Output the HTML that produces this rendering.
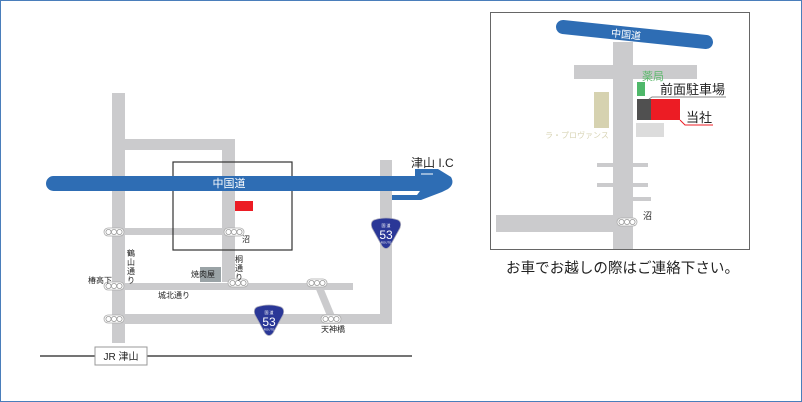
<!DOCTYPE html>
<html><head><meta charset="utf-8"><style>
html,body{margin:0;padding:0;background:#fff}
svg{display:block;font-family:"Liberation Sans","Noto Sans CJK JP",sans-serif}
</style></head><body>
<svg width="802" height="402" viewBox="0 0 802 402" xmlns="http://www.w3.org/2000/svg">
<defs>
<g id="sig"><rect x="-10" y="-4" width="20" height="8" rx="4" fill="#fff" stroke="#aaa" stroke-width="0.8"/><circle cx="-5.5" cy="0" r="2.6" fill="#fff" stroke="#999" stroke-width="0.8"/><circle cx="0" cy="0" r="2.6" fill="#fff" stroke="#999" stroke-width="0.8"/><circle cx="5.5" cy="0" r="2.6" fill="#fff" stroke="#999" stroke-width="0.8"/></g>
<g id="r53"><path d="M-12,-14 Q0,-18 12,-14 Q16,-12 14,-6 L4,12 Q0,17 -4,12 L-14,-6 Q-16,-12 -12,-14Z" fill="#2a3797" stroke="#aab" stroke-width="0.8"/><text x="0" y="-7" font-size="4" fill="#fff" text-anchor="middle">国 道</text><text x="0" y="5" font-size="12" fill="#fff" text-anchor="middle">53</text><text x="0" y="9.5" font-size="3" fill="#fff" text-anchor="middle">ROUTE</text></g>
</defs>
<rect x="0.5" y="0.5" width="801" height="401" fill="#fff" stroke="#4a7ebb"/>
<g fill="#cbcbcd">
<rect x="112" y="93" width="13" height="250"/>
<rect x="112" y="139" width="123" height="11"/>
<rect x="222" y="139" width="13" height="143"/>
<rect x="112" y="228" width="123" height="7"/>
<rect x="112" y="283" width="241" height="7"/>
<rect x="112" y="314" width="280" height="10"/>
<rect x="380" y="160" width="12" height="164"/>
<polygon points="315,287 323,287 335,316 327,316"/>
<rect x="200" y="267" width="21" height="15" fill="#9aa3a6"/>
</g>
<rect x="173" y="162" width="119" height="88" fill="none" stroke="#333" stroke-width="1.2"/>
<rect x="235" y="201" width="18" height="10" fill="#ec1c24"/>
<rect x="46" y="176" width="380" height="15" rx="7.5" fill="#2e6db4"/>
<path d="M392,195 L417,195 L420,191 L415,191 L415,169 L438,169 L451,177 Q455,184 448,189 L442,192 L421,200 L392,200Z" fill="#2e6db4"/>
<line x1="421" y1="174" x2="433" y2="174" stroke="#fff" stroke-width="1"/>
<text x="229" y="187" font-size="11" fill="#fff" text-anchor="middle">中国道</text>
<text x="411" y="167" font-size="12" fill="#222">津山 I.C</text>
<use href="#sig" x="114" y="232"/><use href="#sig" x="234" y="232"/>
<use href="#sig" x="114" y="286"/><use href="#sig" x="238" y="283"/><use href="#sig" x="317" y="283"/>
<use href="#sig" x="114" y="319"/><use href="#sig" x="331" y="319"/>
<use href="#r53" x="386" y="234"/><use href="#r53" x="269" y="321"/>
<g font-size="8" fill="#222">
<text x="242" y="242">沼</text>
<text x="88" y="283">椿高下</text>
<text x="158" y="298">城北通り</text>
<text x="191" y="277">焼肉屋</text>
<text x="321" y="332">天神橋</text>
<text x="127" y="256">鶴</text><text x="127" y="265">山</text><text x="127" y="274">通</text><text x="127" y="283">り</text>
<text x="235" y="262">桐</text><text x="235" y="271">通</text><text x="235" y="280">り</text>
</g>
<line x1="40" y1="356" x2="412" y2="356" stroke="#222" stroke-width="1.2"/>
<rect x="95" y="347" width="52" height="18" fill="#fff" stroke="#999"/>
<text x="121" y="360" font-size="10" fill="#222" text-anchor="middle">JR 津山</text>

<rect x="490.5" y="12.5" width="259" height="237" fill="#fff" stroke="#666"/>
<g fill="#cbcbcd">
<rect x="613" y="42" width="20" height="207"/>
<rect x="574" y="65" width="123" height="14"/>
<rect x="597" y="163" width="51" height="4"/>
<rect x="597" y="183" width="51" height="4"/>
<rect x="633" y="197" width="18" height="4"/>
<rect x="496" y="215" width="137" height="17"/>
<rect x="636" y="123" width="28" height="14" fill="#dcdcdc"/>
</g>
<line x1="563" y1="27" x2="706" y2="42" stroke="#2e6db4" stroke-width="14" stroke-linecap="round"/>
<text x="626" y="38" font-size="10" fill="#fff" text-anchor="middle" transform="rotate(6 626 35)">中国道</text>
<rect x="594" y="92" width="15" height="36" fill="#d6d2b0"/>
<text x="545" y="138" font-size="8" fill="#d8d4b5">ラ・プロヴァンス</text>
<text x="642" y="80" font-size="11" fill="#5cb86c">薬局</text>
<rect x="637" y="82" width="8" height="14" fill="#4fb86a"/>
<rect x="637" y="99" width="14" height="21" fill="#505050"/>
<rect x="651" y="99" width="29" height="21" fill="#ec1c24"/>
<polyline points="649,99 652,97 726,97" fill="none" stroke="#888" stroke-width="1"/>
<polyline points="680,120 685,125 713,125" fill="none" stroke="#ec1c24" stroke-width="1"/>
<text x="660" y="94" font-size="13" fill="#222">前面駐車場</text>
<text x="686" y="122" font-size="13" fill="#222">当社</text>
<use href="#sig" x="627" y="222"/>
<text x="643" y="219" font-size="9" fill="#222">沼</text>
<text x="506" y="273" font-size="14.5" fill="#222" textLength="233" lengthAdjust="spacing">お車でお越しの際はご連絡下さい。</text>
</svg>
</body></html>
